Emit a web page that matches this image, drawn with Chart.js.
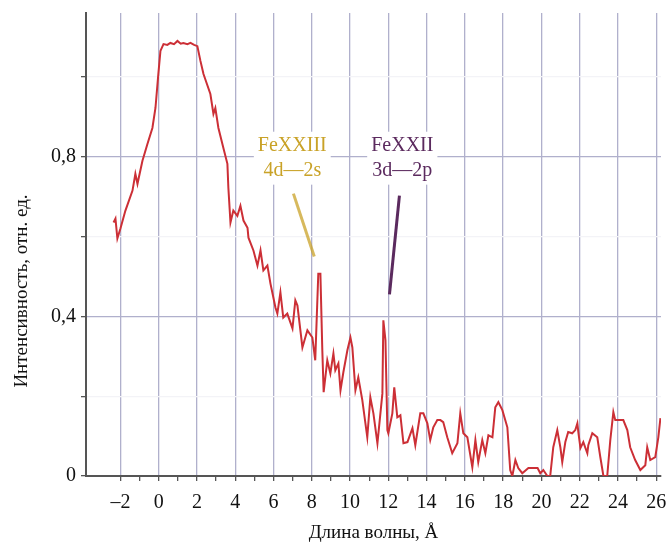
<!DOCTYPE html>
<html lang="ru">
<head>
<meta charset="utf-8">
<title>Спектр</title>
<script src="https://cdn.jsdelivr.net/npm/chart.js@4/dist/chart.umd.min.js"></script>
<style>
  body { margin: 0; background: #fff; }
  #wrap { width: 667px; height: 544px; }
</style>
</head>
<body>
<div id="wrap"><canvas id="spectrumChart" width="667" height="544"></canvas></div>
<script>
// === data ===
const wavelength = [
  -2.36, -2.26, -2.16, -2.0, -1.74, -1.37, -1.22, -1.11, -0.85, -0.59, -0.33, -0.17, -0.02,
  0.09, 0.25, 0.45, 0.61, 0.8, 0.98, 1.15, 1.29, 1.5, 1.66, 1.85, 2.02, 2.18, 2.34, 2.7,
  2.86, 2.96, 3.12, 3.38, 3.59, 3.64, 3.75, 3.9, 4.11, 4.27, 4.43, 4.64, 4.69, 4.95, 5.16,
  5.32, 5.47, 5.68, 5.84, 6.1, 6.2, 6.36, 6.51, 6.72, 6.99, 7.14, 7.25, 7.51, 7.77, 8.03,
  8.18, 8.34, 8.45, 8.55, 8.62, 8.81, 8.97, 9.13, 9.23, 9.39, 9.5, 9.65, 9.86, 10.02, 10.12,
  10.28, 10.43, 10.64, 10.9, 11.06, 11.22, 11.43, 11.69, 11.74, 11.85, 11.95, 12.0, 12.21,
  12.31, 12.47, 12.63, 12.79, 13.0, 13.26, 13.41, 13.67, 13.83, 14.04, 14.19, 14.35, 14.56,
  14.72, 14.87, 15.08, 15.34, 15.61, 15.76, 15.92, 16.13, 16.39, 16.55, 16.7, 16.91, 17.07,
  17.23, 17.44, 17.59, 17.75, 17.96, 18.22, 18.37, 18.48, 18.64, 18.79, 19.0, 19.32, 19.58,
  19.8, 19.94, 20.1, 20.31, 20.46, 20.62, 20.83, 20.99, 21.09, 21.25, 21.4, 21.61, 21.77,
  21.88, 21.93, 22.04, 22.19, 22.4, 22.45, 22.66, 22.92, 23.08, 23.24, 23.44, 23.6, 23.76,
  23.86, 24.13, 24.28, 24.49, 24.64, 24.9, 25.17, 25.43, 25.53, 25.69, 25.95, 26.11, 26.22
];
const intensity = [
  0.635, 0.645, 0.595, 0.62, 0.665, 0.715, 0.757, 0.732, 0.79, 0.832, 0.872, 0.922, 1.007,
  1.065, 1.082, 1.08, 1.085, 1.082, 1.09, 1.083, 1.085, 1.082, 1.085, 1.08, 1.077, 1.04, 1.007, 0.957,
  0.907, 0.922, 0.872, 0.822, 0.782, 0.722, 0.635, 0.665, 0.652, 0.677, 0.64, 0.622, 0.597, 0.565, 0.527,
  0.565, 0.515, 0.527, 0.482, 0.422, 0.407, 0.46, 0.397, 0.407, 0.37, 0.44, 0.427, 0.322, 0.365, 0.347,
  0.29, 0.507, 0.507, 0.315, 0.21, 0.29, 0.257, 0.307, 0.265, 0.282, 0.215, 0.26, 0.315, 0.347, 0.322,
  0.215, 0.247, 0.19, 0.097, 0.197, 0.157, 0.082, 0.207, 0.39, 0.34, 0.115, 0.107, 0.157,
  0.222, 0.147, 0.152, 0.082, 0.085, 0.12, 0.077, 0.157, 0.157, 0.132, 0.09, 0.122, 0.14,
  0.14, 0.135, 0.097, 0.057, 0.082, 0.157, 0.107, 0.097, 0.022, 0.09, 0.035, 0.09, 0.057,
  0.102, 0.097, 0.172, 0.185, 0.165, 0.122, 0.015, 0, 0.04, 0.02, 0.007, 0.02, 0.02,
  0.02, 0.007, 0.015, 0, 0, 0.072, 0.115, 0.072, 0.035, 0.085, 0.11, 0.107, 0.115,
  0.132, 0.11, 0.07, 0.085, 0.057, 0.077, 0.107, 0.097, 0.047, 0, 0, 0.09, 0.16,
  0.14, 0.14, 0.14, 0.115, 0.072, 0.04, 0.015, 0.027, 0.072, 0.04, 0.047, 0.097, 0.145
];
const xTicks = [-2, -1, 0, 1, 2, 3, 4, 5, 6, 7, 8, 9, 10, 11, 12, 13, 14, 15, 16, 17, 18, 19, 20, 21, 22, 23, 24, 25, 26];
const yTicks = [0, 0.2, 0.4, 0.6, 0.8, 1.0];
const yLabels = { 0: '0', 0.4: '0,4', 0.8: '0,8' };

// line labels (text + pointer, in data units)
const notes = [
  { lines: ['FeXXIII', '4d\u20142s'], color: '#c9a227', x: 6.98, y: [0.8275, 0.765],
    arrow: [[7.04, 0.7075], [8.13, 0.55]], arrowColor: 'rgba(201,162,39,0.75)' },
  { lines: ['FeXXII', '3d\u20142p'], color: '#5b2a5e', x: 12.73, y: [0.8275, 0.765],
    arrow: [[12.58, 0.7025], [12.06, 0.455]], arrowColor: '#5b2a5e' }
];

const serif = "'Liberation Serif', 'DejaVu Serif', serif";
const gridBlue = '#b0b0cc';

const notesPlugin = {
  id: 'notes',
  afterDatasetsDraw(chart) {
    const { ctx, scales: { x, y } } = chart;
    ctx.save();
    ctx.font = '20px ' + serif;
    ctx.textAlign = 'center';
    ctx.textBaseline = 'middle';
    notes.forEach(n => {
      const cx = x.getPixelForValue(n.x);
      const w = Math.max(...n.lines.map(t => ctx.measureText(t).width)) + 8;
      const top = y.getPixelForValue(n.y[0]) - 14;
      const bot = y.getPixelForValue(n.y[1]) + 14;
      ctx.fillStyle = '#fff';
      ctx.fillRect(cx - w / 2, top, w, bot - top);
      ctx.fillStyle = n.color;
      n.lines.forEach((t, i) => ctx.fillText(t, cx, y.getPixelForValue(n.y[i])));
      ctx.strokeStyle = n.arrowColor;
      ctx.lineWidth = 3;
      ctx.beginPath();
      ctx.moveTo(x.getPixelForValue(n.arrow[0][0]), y.getPixelForValue(n.arrow[0][1]));
      ctx.lineTo(x.getPixelForValue(n.arrow[1][0]), y.getPixelForValue(n.arrow[1][1]));
      ctx.stroke();
    });
    // y axis title, placed a bit lower than the axis centre like the original
    ctx.fillStyle = '#111';
    ctx.font = '19px ' + serif;
    ctx.translate(22, 291);
    ctx.rotate(-Math.PI / 2);
    ctx.fillText('Интенсивность, отн. ед.', 0, 0);
    ctx.restore();
  }
};

const ctx = document.getElementById('spectrumChart');

new Chart(ctx, {
  type: 'line',
  data: {
    datasets: [{
      data: wavelength.map((w, i) => ({ x: w, y: intensity[i] })),
      borderColor: '#cc2f36',
      borderWidth: 2,
      pointRadius: 0,
      tension: 0,
      fill: false
    }]
  },
  options: {
    responsive: false,
    animation: false,
    layout: { padding: { top: 13, right: 6, left: 0, bottom: 0 } },
    plugins: { legend: { display: false }, tooltip: { enabled: false } },
    scales: {
      x: {
        type: 'linear',
        min: -3.8,
        max: 26.25,
        afterBuildTicks: scale => { scale.ticks = xTicks.map(v => ({ value: v })); },
        afterFit: scale => {
          scale.height = 68;
          scale.paddingLeft = 0;
          scale.paddingRight = 0;
        },
        ticks: {
          autoSkip: false,
          maxRotation: 0,
          padding: 10,
          color: '#111',
          font: { family: serif, size: 20 },
          callback: v => (v % 2 === 0 ? (v < 0 ? '\u2013' + (-v) : String(v)) : '')
        },
        grid: {
          color: c => (c.tick && c.tick.value % 2 === 0 ? gridBlue : 'rgba(0,0,0,0)'),
          tickColor: '#555',
          tickLength: 5,
          lineWidth: 1.3
        },
        border: { display: true, color: '#555', width: 2 },
        title: {
          display: true,
          text: 'Длина волны, Å',
          color: '#111',
          font: { family: serif, size: 19 },
          padding: { top: 0, bottom: 0 }
        }
      },
      y: {
        min: 0,
        max: 1.16,
        afterBuildTicks: scale => { scale.ticks = yTicks.map(v => ({ value: v })); },
        afterFit: scale => {
          scale.width = 86;
          scale.paddingTop = 0;
          scale.paddingBottom = 0;
        },
        ticks: {
          padding: 5,
          color: '#111',
          font: { family: serif, size: 20 },
          callback: v => yLabels[Math.round(v * 10) / 10] || ''
        },
        grid: {
          color: c => {
            const v = Math.round(c.tick.value * 10) / 10;
            if (v === 0) return 'rgba(0,0,0,0)';
            return v === 0.4 || v === 0.8 ? gridBlue : '#f3f3f7';
          },
          tickColor: '#555',
          tickLength: 5,
          lineWidth: 1.3
        },
        border: { display: true, color: '#555', width: 2 }
      }
    }
  },
  plugins: [notesPlugin]
});
</script>
</body>
</html>
